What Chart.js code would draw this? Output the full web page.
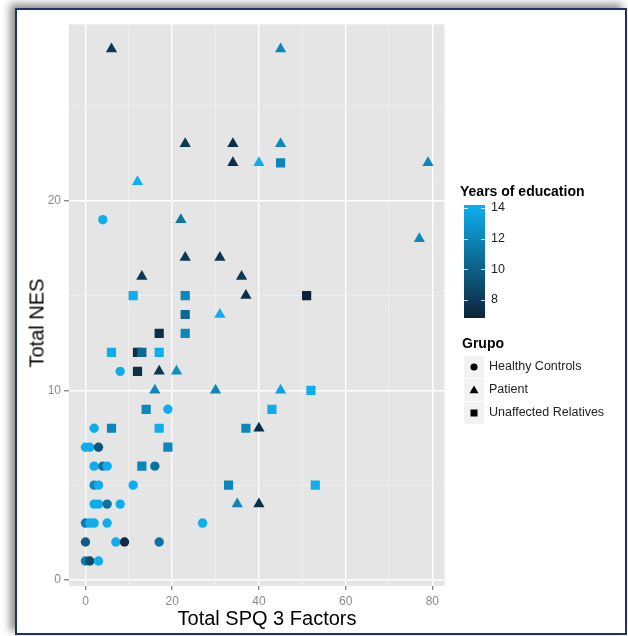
<!DOCTYPE html>
<html>
<head>
<meta charset="utf-8">
<script src="https://cdn.jsdelivr.net/npm/chart.js@4"></script>
<style>
  html, body { margin: 0; padding: 0; background: #fff; }
  body { width: 628px; height: 636px; position: relative; overflow: hidden; font-family: "Liberation Sans", Arial, sans-serif; }
  #frame { position: absolute; left: 15px; top: 8px; width: 612px; height: 627px; box-sizing: border-box;
           border: 2px solid #1d3461; background: #fff; box-shadow: -5px -4px 8px rgba(0,0,0,0.45); }
  #chart { position: absolute; left: 0; top: 0; }
  .txt { position: absolute; white-space: nowrap; color: #000; }
  .ttl { font-size: 20px; }
  .lgTitle { font-size: 14px; font-weight: bold; }
  .lab { font-size: 12.5px; color: #222; }
  .key { position: absolute; left: 464px; width: 20px; height: 22px; background: #f2f2f2; }
</style>
</head>
<body>
<div id="frame"></div>
<canvas id="chart" width="628" height="636"></canvas>
<div id="legend"></div>
<script>
// Healthy Controls
const hcX   = [4, 8, 19, 2, 0, 1, 3, 2, 4, 5, 16, 2, 3, 11, 2, 3, 5, 8, 0, 1, 2, 5, 27, 0, 7, 9, 17, 0, 1, 3];
const hcY   = [19, 11, 9, 8, 7, 7, 7, 6, 6, 6, 6, 5, 5, 5, 4, 4, 4, 4, 3, 3, 3, 3, 3, 2, 2, 2, 2, 1, 1, 1];
const hcYrs = [14, 14, 14, 14, 14, 14, 9.5, 14, 11, 14, 11, 12, 14, 14, 14, 14, 11, 14, 11.5, 14, 14, 14, 14, 10, 14, 7.5, 11, 11.5, 9, 14];

// Patient
const patX   = [6, 45, 23, 34, 45, 34, 40, 79, 12, 22, 77, 23, 31, 13, 36, 37, 31, 17, 21, 16, 30, 45, 40, 35, 40];
const patY   = [28, 28, 23, 23, 23, 22, 22, 22, 21, 19, 18, 17, 17, 16, 16, 15, 14, 11, 11, 10, 10, 10, 8, 4, 4];
const patYrs = [8, 12, 8, 7.5, 12, 7.5, 14, 12, 14, 11, 12, 8, 8, 8, 8, 7.5, 14, 8, 12.5, 12, 12, 13.5, 7.5, 12, 7.5];

// Unaffected Relatives
const urX   = [45, 11, 23, 51, 23, 17, 23, 6, 12, 13, 17, 12, 14, 43, 52, 6, 17, 37, 19, 13, 33, 53];
const urY   = [22, 15, 15, 15, 14, 13, 13, 12, 12, 12, 12, 11, 9, 9, 10, 8, 8, 8, 7, 6, 5, 5];
const urYrs = [12, 14, 12, 7, 10.5, 7.5, 12, 14, 7.5, 10.5, 14, 7.5, 12, 14, 14, 12, 14, 12, 12, 12, 12, 14];

const groups = ['Healthy Controls', 'Patient', 'Unaffected Relatives'];
const cbTicks = [8, 10, 12, 14];

const FONT = '"Liberation Sans", Arial, sans-serif';
const lowC = [12, 36, 58], highC = [14, 174, 238];
function yrColor(v) {
  let t = (v - 7) / 7;
  t = Math.max(0, Math.min(1, t));
  const c = lowC.map((l, i) => Math.round(l + (highC[i] - l) * t));
  return 'rgb(' + c.join(',') + ')';
}
function pts(xs, ys) { return xs.map((x, i) => ({ x: x, y: ys[i] })); }

const panelBg = {
  id: 'panelBg',
  beforeDraw(chart) {
    const a = chart.chartArea, ctx = chart.ctx;
    ctx.save();
    ctx.fillStyle = '#e5e5e5';
    ctx.fillRect(a.left, a.top, a.right - a.left, a.bottom - a.top);
    ctx.restore();
  }
};

new Chart(document.getElementById('chart'), {
  type: 'scatter',
  data: {
    datasets: [
      { label: groups[0], data: pts(hcX, hcY), pointStyle: 'circle', pointRadius: 4.7, pointHoverRadius: 4.7,
        backgroundColor: hcYrs.map(yrColor), borderWidth: 0 },
      { label: groups[1], data: pts(patX, patY), pointStyle: 'triangle', pointRadius: 6.5, pointHoverRadius: 6.5,
        backgroundColor: patYrs.map(yrColor), borderWidth: 0 },
      { label: groups[2], data: pts(urX, urY), pointStyle: 'rect', pointRadius: 6.5, pointHoverRadius: 6.5,
        backgroundColor: urYrs.map(yrColor), borderWidth: 0 }
    ]
  },
  options: {
    responsive: false,
    animation: false,
    layout: { padding: { left: 0, top: 24.4, right: 183.5, bottom: 0 } },
    plugins: { legend: { display: false }, tooltip: { enabled: false } },
    scales: {
      x: {
        type: 'linear', min: -3.8, max: 82.8,
        afterFit(s) { s.height = 50; },
        border: { display: false },
        grid: {
          color: c => c.tick && c.tick.value % 20 === 0 ? '#ffffff' : '#f3f3f3',
          lineWidth: c => c.tick && c.tick.value % 20 === 0 ? 1.4 : 0.6,
          tickColor: c => c.tick && c.tick.value % 20 === 0 ? '#8a8a8a' : 'rgba(0,0,0,0)',
          tickLength: 4
        },
        ticks: {
          stepSize: 10, includeBounds: false, autoSkip: false, maxRotation: 0, padding: 4,
          color: '#8a8a8a', font: { family: FONT, size: 12 },
          callback: v => v % 20 === 0 ? v : ''
        }
      },
      y: {
        type: 'linear', min: -0.32, max: 29.3,
        afterFit(s) { s.width = 69; },
        border: { display: false },
        grid: {
          color: c => c.tick && c.tick.value % 10 === 0 ? '#ffffff' : '#f3f3f3',
          lineWidth: c => c.tick && c.tick.value % 10 === 0 ? 1.4 : 0.6,
          tickColor: c => c.tick && c.tick.value % 10 === 0 ? '#8a8a8a' : 'rgba(0,0,0,0)',
          tickLength: 5
        },
        ticks: {
          stepSize: 5, includeBounds: false, autoSkip: false, padding: 3,
          color: '#8a8a8a', font: { family: FONT, size: 12 },
          callback: v => v % 10 === 0 ? v : ''
        }
      }
    }
  },
  plugins: [panelBg]
});

// axis titles and legends as html text
const lg = document.getElementById('legend');
let html = '';
html += '<div class="txt ttl" style="left:267px;top:607px;transform:translateX(-50%)">Total SPQ 3 Factors</div>';
html += '<div class="txt ttl" style="left:37px;top:323px;transform:translate(-50%,-50%) rotate(-90deg)">Total NES</div>';

// colour bar
const cbTop = 205, cbPerYr = 15.35, cbHi = 14.22, cbLo = 6.86;
const cbY = v => cbTop + (cbHi - v) * cbPerYr;
html += '<div class="txt lgTitle" style="left:460px;top:183px">Years of education</div>';
html += '<div style="position:absolute;left:464px;top:' + cbTop + 'px;width:21px;height:' + (cbY(cbLo) - cbTop) +
        'px;background:linear-gradient(to bottom,' + yrColor(cbHi) + ',' + yrColor(cbLo) + ')"></div>';
cbTicks.forEach(v => {
  const y = cbY(v);
  html += '<div style="position:absolute;left:464px;top:' + (y - 0.5) + 'px;width:4px;height:1px;background:rgba(255,255,255,0.8)"></div>';
  html += '<div style="position:absolute;left:481px;top:' + (y - 0.5) + 'px;width:4px;height:1px;background:rgba(255,255,255,0.8)"></div>';
  html += '<div class="txt lab" style="left:491px;top:' + (y - 8) + 'px">' + v + '</div>';
});

// shape legend
const shapes = [
  '<circle cx="10" cy="11" r="3.6" fill="#000"/>',
  '<polygon points="10,6.5 14.5,14.3 5.5,14.3" fill="#000"/>',
  '<rect x="6.5" y="7.5" width="7" height="7" fill="#000"/>'
];
html += '<div class="txt lgTitle" style="left:462px;top:335px">Grupo</div>';
const rowY = [356, 378.5, 401.5];
groups.forEach((g, i) => {
  html += '<div class="key" style="top:' + rowY[i] + 'px"><svg width="20" height="22">' + shapes[i] + '</svg></div>';
  html += '<div class="txt lab" style="left:489px;top:' + (rowY[i] + 3) + 'px">' + g + '</div>';
});
lg.innerHTML = html;
</script>
</body>
</html>
